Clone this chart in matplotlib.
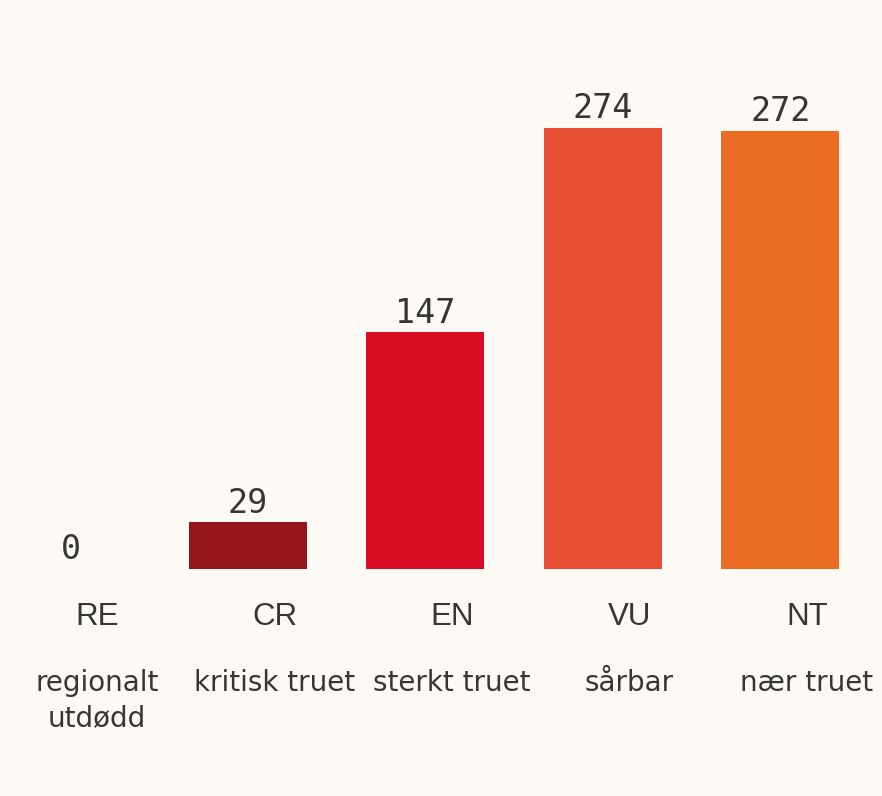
import numpy as np
import matplotlib.pyplot as plt

codes = ['RE', 'CR', 'EN', 'VU', 'NT']
names = ['regionalt\nutdødd', 'kritisk truet', 'sterkt truet', 'sårbar', 'nær truet']
counts = [0, 29, 147, 274, 272]
colors = ['#941619', '#941619', '#D90D23', '#E84E32', '#EA6B24']

bg = '#FDF9F4'
txt = '#363636'

fig = plt.figure(figsize=(8.82, 7.96), dpi=100, facecolor=bg)
ax = fig.add_axes([0.0034, 0.2852, 0.992, 0.6068])
ax.set_facecolor(bg)

x = np.arange(len(codes))
bars = ax.bar(x, counts, width=0.665, color=colors)
ax.set_xlim(-0.38, 4.55)
ax.set_ylim(0, 300)
ax.axis('off')

# value labels above bars
for xi, v in zip(x, counts):
    ax.annotate(str(v), (xi, v), xytext=(0, 2), textcoords='offset points',
                ha='center', va='bottom', fontsize=24, color=txt,
                family='DejaVu Sans Mono')

# category codes and names under the bars
for xi, c, n in zip(x, codes, names):
    ax.text(xi + 0.15, -29.8, c, ha='center', va='center', fontsize=22.5,
            color=txt, family='Liberation Sans', clip_on=False)
    ax.text(xi + 0.15, -62, n, ha='center', va='top', fontsize=20,
            color=txt, family='DejaVu Sans', linespacing=1.35, clip_on=False)

fig.savefig('out.png', dpi=100, facecolor=bg)
